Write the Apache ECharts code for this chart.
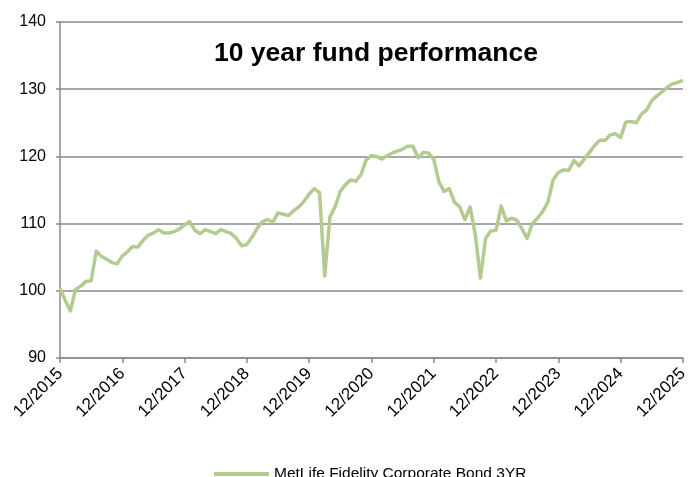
<!DOCTYPE html>
<html>
<head>
<meta charset="utf-8">
<script src="https://cdn.jsdelivr.net/npm/echarts@6/dist/echarts.min.js"></script>
<style>html,body{margin:0;padding:0;background:#fff}#c{width:691px;height:477px}</style>
</head>
<body>
<div id="c"></div>
<script>
const titleText = "10 year fund performance";
const seriesName = "MetLife Fidelity Corporate Bond 3YR";
const yTicks = [90, 100, 110, 120, 130, 140];
// Monthly values, 12/2015 .. 12/2025
const values = [
  100.4, 98.6, 97.0, 100.2, 100.7, 101.4, 101.5, 105.9, 105.1, 104.7, 104.2, 104.0,
  105.2, 105.8, 106.6, 106.5, 107.5, 108.3, 108.6, 109.1, 108.6, 108.6, 108.8, 109.2,
  109.8, 110.3, 109.0, 108.5, 109.1, 108.8, 108.5, 109.1, 108.8, 108.5, 107.8, 106.7,
  106.9, 108.0, 109.3, 110.3, 110.6, 110.2, 111.6, 111.4, 111.2, 111.9, 112.5, 113.3,
  114.4, 115.2, 114.6, 102.2, 111.0, 112.5, 114.8, 115.8, 116.5, 116.3, 117.3, 119.5,
  120.1, 120.0, 119.6, 120.1, 120.5, 120.8, 121.1, 121.5, 121.5, 119.8, 120.6, 120.5,
  119.6, 116.2, 114.8, 115.2, 113.2, 112.5, 110.6, 112.5, 108.4, 101.9, 107.8, 108.9,
  109.0, 112.6, 110.4, 110.8, 110.5, 109.2, 107.8, 110.0, 110.8, 111.8, 113.2, 116.5,
  117.6, 118.0, 117.9, 119.4, 118.6, 119.6, 120.6, 121.6, 122.4, 122.4, 123.2, 123.4,
  122.8, 125.1, 125.2, 125.0, 126.3, 126.9, 128.3, 129.0, 129.6, 130.3, 130.8, 131.0,
  131.3
];
const categories = [];
for (let i = 0; i < values.length; i++) {
  const mm = ((11 + i) % 12) + 1;
  const yy = 2015 + Math.floor((11 + i) / 12);
  categories.push((mm < 10 ? "0" + mm : "" + mm) + "/" + yy);
}

const FONT = 'Liberation Sans, Arial, sans-serif';
const chart = echarts.init(document.getElementById('c'), null, {renderer: 'canvas'});
chart.setOption({
  animation: false,
  backgroundColor: '#fff',
  title: {
    text: titleText,
    left: 371,
    top: 35,
    textAlign: 'center',
    textStyle: {fontFamily: FONT, fontSize: 26.5, fontWeight: 'bold', color: '#000'}
  },
  legend: {
    data: [seriesName],
    left: 209,
    top: 461,
    icon: 'rect',
    itemWidth: 55,
    itemHeight: 4,
    textStyle: {fontFamily: FONT, fontSize: 15.5, color: '#000'}
  },
  grid: {left: 60, right: 5, top: 22, bottom: 119, containLabel: false},
  xAxis: {
    type: 'category',
    data: categories,
    boundaryGap: false,
    axisLine: {lineStyle: {color: '#8a8a8a', width: 1.5}},
    axisTick: {show: true, interval: 11, length: 5, lineStyle: {color: '#8a8a8a', width: 1.5}},
    axisLabel: {
      interval: 11,
      rotate: 45,
      margin: 13,
      fontFamily: FONT,
      fontSize: 17,
      color: '#000'
    },
    splitLine: {show: false}
  },
  yAxis: {
    type: 'value',
    min: yTicks[0],
    max: yTicks[yTicks.length - 1],
    interval: 10,
    axisLine: {show: true, lineStyle: {color: '#8a8a8a', width: 1.5}},
    axisTick: {show: true, length: 4, lineStyle: {color: '#8a8a8a', width: 1.5}},
    axisLabel: {margin: 14, fontFamily: FONT, fontSize: 16, color: '#000'},
    splitLine: {show: true, lineStyle: {color: '#8a8a8a', width: 1.5}}
  },
  series: [{
    name: seriesName,
    type: 'line',
    data: values,
    showSymbol: false,
    symbol: 'none',
    color: '#B3CB8F',
    lineStyle: {color: '#B3CB8F', width: 3.5, join: 'round'}
  }]
});
</script>
</body>
</html>
